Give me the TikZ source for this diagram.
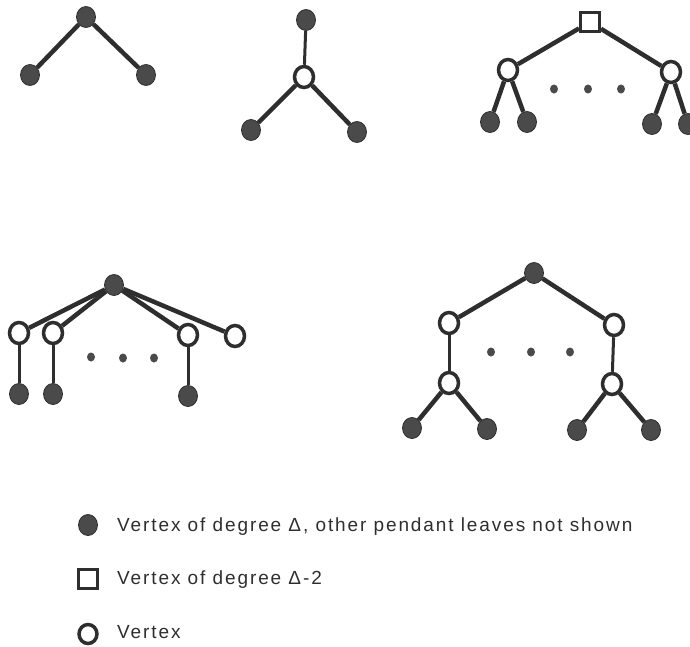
\documentclass[tikz,border=0pt]{standalone}
\usepackage{fontspec}
\setmainfont{Liberation Sans}[LetterSpace=10]
\usetikzlibrary{shapes.geometric}
\definecolor{ink}{HTML}{2E2E2E}
\definecolor{fillg}{HTML}{4A4A4A}
\tikzset{
  full/.style={ellipse, fill=fillg, draw=ink, line width=0.8pt, minimum width=19pt, minimum height=21pt, inner sep=0pt},
  open/.style={ellipse, fill=white, draw=ink, line width=3.5pt, minimum width=19pt, minimum height=21pt, inner sep=0pt},
  sq/.style={rectangle, fill=white, draw=ink, line width=3pt, minimum size=19pt, inner sep=0pt},
  dotn/.style={ellipse, fill=fillg, minimum width=8pt, minimum height=9pt, inner sep=0pt},
  edge/.style={draw=ink, line width=4.5pt},
  thin/.style={draw=ink, line width=3pt},
  lab/.style={anchor=base west, inner sep=0pt, font=\fontsize{19}{22}\selectfont, text=ink}
}
\begin{document}
\begin{tikzpicture}[x=1pt,y=-1pt]
\useasboundingbox (0,0) rectangle (690,646);
% tree 1
\node[full] (a1) at (86,17) {};
\node[full] (a2) at (30,75) {};
\node[full] (a3) at (146,75) {};
\draw[edge] (a1) -- (a2); \draw[edge] (a1) -- (a3);
% tree 2
\node[full] (b1) at (306,20) {};
\node[open] (b2) at (304,77) {};
\node[full] (b3) at (251,130) {};
\node[full] (b4) at (357,132) {};
\draw[thin] (b1) -- (b2);
\draw[edge] (b2) -- (b3); \draw[edge] (b2) -- (b4);
% tree 3
\node[sq] (c1) at (590,22) {};
\node[open] (c2) at (508,70) {};
\node[open] (c3) at (671,72) {};
\node[full] (c4) at (490,122) {};
\node[full] (c5) at (527,122) {};
\node[full] (c6) at (652,124) {};
\node[full] (c7) at (688,124) {};
\draw[edge] (c1) -- (c2); \draw[edge] (c1) -- (c3);
\draw[edge] (c2) -- (c4); \draw[edge] (c2) -- (c5);
\draw[edge] (c3) -- (c6); \draw[edge] (c3) -- (c7);
\node[dotn] (cd1) at (554,89) {};
\node[dotn] (cd2) at (588,89) {};
\node[dotn] (cd3) at (621,89) {};
% tree 4
\node[full] (d1) at (114,285) {};
\node[open] (d2) at (19,333) {};
\node[open] (d3) at (53,333) {};
\node[open] (d4) at (188,335) {};
\node[open] (d5) at (235,336) {};
\node[full] (d6) at (19,394) {};
\node[full] (d7) at (53,394) {};
\node[full] (d8) at (188,396) {};
\draw[edge] (d1) -- (d2); \draw[edge] (d1) -- (d3);
\draw[edge] (d1) -- (d4); \draw[edge] (d1) -- (d5);
\draw[thin] (d2) -- (d6);
\draw[thin] (d3) -- (d7);
\draw[thin] (d4) -- (d8);
\node[dotn] (dd1) at (91,357) {};
\node[dotn] (dd2) at (123,358) {};
\node[dotn] (dd3) at (154,358) {};
% tree 5
\node[full] (e1) at (534,273) {};
\node[open] (e2) at (449,323) {};
\node[open] (e3) at (614,325) {};
\node[open] (e4) at (449,383) {};
\node[open] (e5) at (612,384) {};
\node[full] (e6) at (412,428) {};
\node[full] (e7) at (487,429) {};
\node[full] (e8) at (577,430) {};
\node[full] (e9) at (651,430) {};
\draw[edge] (e1) -- (e2); \draw[edge] (e1) -- (e3);
\draw[thin] (e2) -- (e4);
\draw[thin] (e3) -- (e5);
\draw[edge] (e4) -- (e6); \draw[edge] (e4) -- (e7);
\draw[edge] (e5) -- (e8); \draw[edge] (e5) -- (e9);
\node[dotn] (ed1) at (491,352) {};
\node[dotn] (ed2) at (531,352) {};
\node[dotn] (ed3) at (570,352) {};
% legend
\node[full] (l1) at (88,525) {};
\node[sq] (l2) at (88,579) {};
\node[open, minimum width=18pt, minimum height=19pt] (l3) at (88,634) {};
\node[lab] (t1) at (117,531) {Vertex of degree Δ, other pendant leaves not shown};
\node[lab] (t2) at (117,584) {Vertex of degree Δ-2};
\node[lab] (t3) at (117,638) {Vertex};
\end{tikzpicture}
\end{document}
